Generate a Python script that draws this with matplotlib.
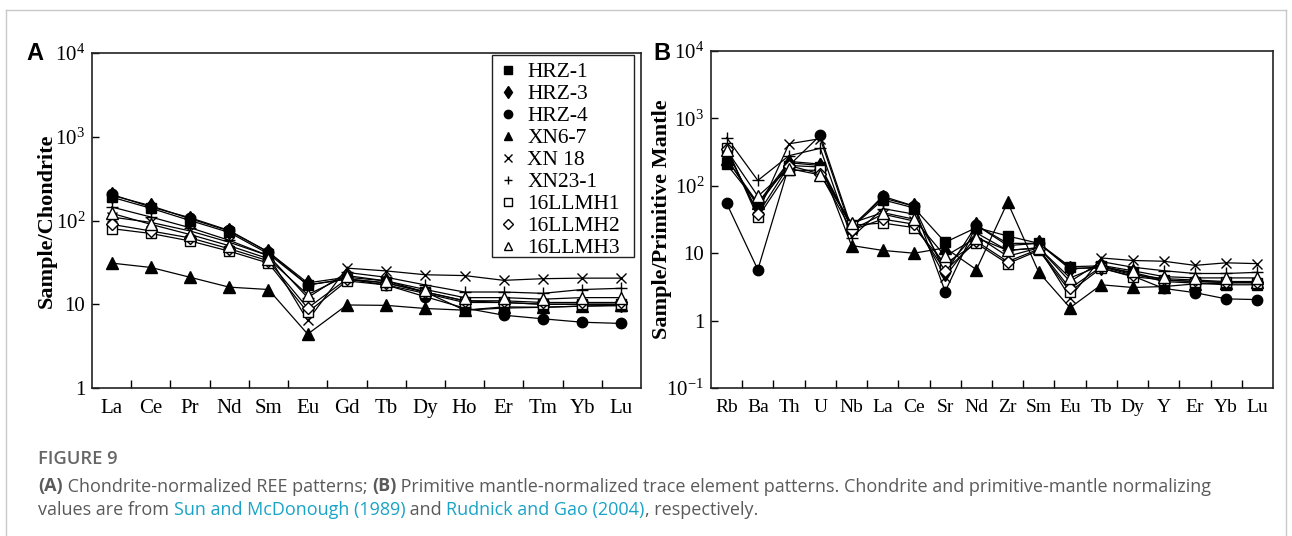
import numpy as np
import matplotlib
matplotlib.use('Agg')
import matplotlib.pyplot as plt
from matplotlib.lines import Line2D
from matplotlib.patches import Rectangle
from matplotlib.text import Annotation
from matplotlib.ticker import FixedLocator, FixedFormatter

# ---------------- data ----------------
samples = ['HRZ-1', 'HRZ-3', 'HRZ-4', 'XN6-7', 'XN 18', 'XN23-1',
           '16LLMH1', '16LLMH2', '16LLMH3']

ree_elements = ['La', 'Ce', 'Pr', 'Nd', 'Sm', 'Eu', 'Gd', 'Tb', 'Dy',
                'Ho', 'Er', 'Tm', 'Yb', 'Lu']

ree_hrz1 = [190, 140, 100, 72, 40, 17, 20, 18, 14, 8.5, 9.0, 9.2, 9.5, 9.6]
ree_hrz3 = [200, 150, 105, 75, 42, 18, 21, 19, 14, 11, 10.5, 10, 10, 10]
ree_hrz4 = [205, 145, 108, 76, 42, 17, 20, 17, 12.3, 9, 7.4, 6.7, 6.1, 5.9]
ree_xn67 = [31, 27.5, 21, 16, 15, 4.4, 9.8, 9.7, 8.9, 8.5, 9.3, 9.2, 9.5, 9.8]
ree_xn18 = [110, 95, 75, 55, 38, 6.4, 27, 25, 22.5, 22, 19.3, 20.2, 20.5, 20.5]
ree_xn231 = [145, 110, 82, 58, 38, 12, 24, 21, 17, 14, 14, 13.5, 15, 15.5]
ree_llmh1 = [80, 70, 57, 43, 31, 8, 19, 17, 13.5, 10.5, 10.5, 10, 10, 10]
ree_llmh2 = [90, 75, 62, 46, 33, 9, 20, 18, 14, 11, 11, 10.5, 10.5, 10.5]
ree_llmh3 = [122, 90, 68, 50, 35, 13, 22, 19, 15, 12, 12, 11.5, 12, 12]

trace_elements = ['Rb', 'Ba', 'Th', 'U', 'Nb', 'La', 'Ce', 'Sr', 'Nd', 'Zr',
                  'Sm', 'Eu', 'Tb', 'Dy', 'Y', 'Er', 'Yb', 'Lu']

tr_hrz1 = [210, 55, 200, 190, 24, 62, 47, 14.5, 24, 18, 14, 6.3, 6.5, 5.0, 3.8, 3.6, 3.4, 3.4]
tr_hrz3 = [260, 50, 220, 200, 25, 66, 50, 5.0, 26, 14, 14, 5.8, 6.3, 5.2, 4.0, 3.8, 3.7, 3.7]
tr_hrz4 = [55, 5.7, 200, 560, 24, 70, 50, 2.7, 26, 13, 14, 6.0, 6.0, 4.6, 3.0, 2.6, 2.1, 2.05]
tr_xn67 = [250, 55, 230, 210, 13, 11, 10, 12, 5.7, 57, 5.2, 1.55, 3.4, 3.1, 3.2, 3.5, 3.6, 3.7]
tr_xn18 = [340, 40, 420, 500, 22, 38, 30, 4.5, 18, 9, 12, 2.2, 8.5, 7.8, 7.6, 6.6, 7.2, 7.0]
tr_xn231 = [520, 120, 280, 360, 17, 46, 38, 6.0, 20, 11, 12, 3.8, 7.5, 6.2, 5.5, 5.0, 5.0, 5.2]
tr_llmh1 = [370, 34, 170, 170, 26, 28, 24, 7.0, 14, 7.0, 11, 2.7, 6.0, 4.5, 4.0, 3.8, 3.7, 3.6]
tr_llmh2 = [350, 38, 200, 150, 22, 32, 27, 5.5, 15, 7.5, 11.5, 3.0, 6.3, 4.8, 4.2, 4.0, 3.8, 3.8]
tr_llmh3 = [340, 70, 180, 145, 28, 40, 32, 9.0, 17, 11, 12, 4.3, 6.6, 5.5, 4.5, 4.3, 4.3, 4.3]

ree_data = [ree_hrz1, ree_hrz3, ree_hrz4, ree_xn67, ree_xn18, ree_xn231,
            ree_llmh1, ree_llmh2, ree_llmh3]
trace_data = [tr_hrz1, tr_hrz3, tr_hrz4, tr_xn67, tr_xn18, tr_xn231,
              tr_llmh1, tr_llmh2, tr_llmh3]

ytick_a = [1, 10, 100, 1000, 10000]
ytick_a_labels = ['1', '10', r'$10^{2}$', r'$10^{3}$', r'$10^{4}$']
ytick_b = [0.1, 1, 10, 100, 1000, 10000]
ytick_b_labels = [r'$10^{-1}$', '1', '10', r'$10^{2}$', r'$10^{3}$', r'$10^{4}$']

# ---------------- styles ----------------
styles = [
    dict(marker='s', mfc='black', ms=7),
    dict(marker='d', mfc='black', ms=8),
    dict(marker='o', mfc='black', ms=7.5),
    dict(marker='^', mfc='black', ms=8),
    dict(marker='x', mfc='black', ms=7, mew=1.0),
    dict(marker='+', mfc='black', ms=8, mew=1.0),
    dict(marker='s', mfc='white', ms=7),
    dict(marker='D', mfc='white', ms=6.5),
    dict(marker='^', mfc='white', ms=8),
]

plt.rcParams['font.family'] = ['Liberation Serif', 'DejaVu Serif']
plt.rcParams['mathtext.fontset'] = 'custom'
plt.rcParams['mathtext.rm'] = 'Liberation Serif'
plt.rcParams['mathtext.it'] = 'Liberation Serif:italic'
plt.rcParams['mathtext.bf'] = 'Liberation Serif:bold'

W, H = 1292, 536
fig = plt.figure(figsize=(W / 100, H / 100), dpi=100)

# outer light frame
for xs, ys in [([6, 6], [536, 10]), ([6, 1286], [10, 10]), ([1286, 1286], [10, 536])]:
    fig.add_artist(Line2D([x / W for x in xs], [1 - y / H for y in ys],
                          transform=fig.transFigure, color='#c8c8c8', lw=1.0))

axA = fig.add_axes([92 / W, 1 - 388 / H, (641 - 92) / W, (388 - 53) / H])
axB = fig.add_axes([711 / W, 1 - 388 / H, (1273 - 711) / W, (388 - 51) / H])


def style_axis(ax, cats, yt, ytl, ylim, fs_x, ylabel, ylab_x):
    n = len(cats)
    ax.set_yscale('log')
    ax.set_ylim(*ylim)
    ax.set_xlim(-0.5, n - 0.5)
    ax.xaxis.set_major_locator(FixedLocator(np.arange(n)))
    ax.xaxis.set_major_formatter(FixedFormatter(cats))
    ax.xaxis.set_minor_locator(FixedLocator(np.arange(n - 1) + 0.5))
    ax.yaxis.set_major_locator(FixedLocator(yt))
    ax.yaxis.set_major_formatter(FixedFormatter(ytl))
    ax.yaxis.set_minor_locator(FixedLocator([]))
    ax.tick_params(axis='x', which='major', length=0, pad=8, labelsize=fs_x)
    ax.tick_params(axis='x', which='minor', direction='in', length=6, width=1)
    ax.tick_params(axis='y', which='major', direction='in', length=5, width=1,
                   labelsize=15, pad=5)
    for s in ax.spines.values():
        s.set_linewidth(1.2)
        s.set_color('#222222')
    ax.set_ylabel(ylabel, fontsize=16, fontweight='bold')
    ax.yaxis.set_label_coords(ylab_x, 0.5)


for data, st in zip(ree_data, styles):
    axA.plot(np.arange(len(ree_elements)), data, color='black', lw=0.9,
             mec='black', clip_on=False, **st)
for data, st in zip(trace_data, styles):
    axB.plot(np.arange(len(trace_elements)), data, color='black', lw=0.9,
             mec='black', clip_on=False, **st)

style_axis(axA, ree_elements, ytick_a, ytick_a_labels, (1, 10000), 15,
           'Sample/Chondrite', -0.064)
style_axis(axB, trace_elements, ytick_b, ytick_b_labels, (0.1, 10000), 14,
           'Sample/Primitive Mantle', -0.07)

# legend (frame drawn separately)
handles = []
for name, st in zip(samples, styles):
    s2 = dict(st)
    s2['ms'] = st['ms'] * 0.8
    handles.append(Line2D([], [], linestyle='none', color='black', mec='black', **s2))
leg = axA.legend(handles, samples, loc='upper left',
                 bbox_to_anchor=((501.5 - 92) / 549, (388 - 62) / 335),
                 fontsize=15.5, frameon=False,
                 handlelength=0.6, handletextpad=0.59, labelspacing=0.09,
                 borderpad=0.0, borderaxespad=0.0)
axA.add_patch(Rectangle(((492 - 92) / 549, (388 - 257) / 335),
                        (634 - 492) / 549, (257 - 55) / 335,
                        transform=axA.transAxes, fill=False,
                        edgecolor='#222222', lw=1.0, zorder=5))

# panel letters
fig.text(35 / W, 1 - 54 / H, 'A', fontsize=17, fontweight='bold',
         family='Liberation Sans', ha='center', va='center')
fig.text(662 / W, 1 - 54 / H, 'B', fontsize=17, fontweight='bold',
         family='Liberation Sans', ha='center', va='center')

# caption
gray = '#5a5a5a'
cyan = '#1aa3c6'
cap_font = ['Open Sans', 'DejaVu Sans']
fig.text(38 / W, 1 - 459 / H, 'FIGURE 9', fontsize=13.2, color='#666666',
         family=cap_font, fontweight='semibold', va='center')


def caption_line(y_px, pieces):
    last = None
    for txt, col, bold in pieces:
        kw = dict(fontsize=13.0, color=col, family=cap_font,
                  fontweight='bold' if bold else 'normal')
        if last is None:
            last = fig.text(38 / W, 1 - y_px / H, txt, va='bottom', ha='left', **kw)
        else:
            last = fig.add_artist(Annotation(txt, xy=(1, 0), xycoords=last,
                                             va='bottom', ha='left', **kw))


caption_line(495.5, [('(A)', gray, True),
                     (' Chondrite-normalized REE patterns; ', gray, False),
                     ('(B)', gray, True),
                     (' Primitive mantle-normalized trace element patterns. Chondrite and '
                      'primitive-mantle normalizing', gray, False)])
caption_line(519, [('values are from ', gray, False),
                   ('Sun and McDonough (1989)', cyan, False),
                   (' and ', gray, False),
                   ('Rudnick and Gao (2004)', cyan, False),
                   (', respectively.', gray, False)])

fig.savefig('out.png', dpi=100)
